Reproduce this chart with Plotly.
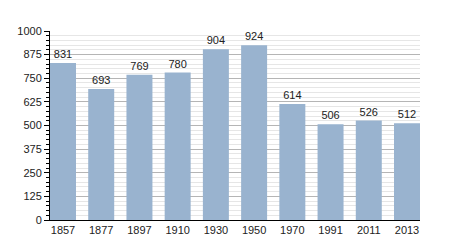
import plotly.graph_objects as go

years = ["1857", "1877", "1897", "1910", "1930", "1950", "1970", "1991", "2011", "2013"]
population = [831, 693, 769, 780, 904, 924, 614, 506, 526, 512]
y_ticks = [0, 125, 250, 375, 500, 625, 750, 875, 1000]

fig = go.Figure(go.Bar(
    x=years, y=population, text=[str(v) for v in population],
    textposition="outside", cliponaxis=False,
    marker=dict(color="#99b3cf", line=dict(width=0)),
    width=0.68,
    textfont=dict(family="Liberation Sans, Arial", size=11, color="#222"),
))
fig.update_layout(
    width=450, height=250,
    margin=dict(l=50, r=30, t=31, b=30),
    paper_bgcolor="white", plot_bgcolor="white",
    showlegend=False,
    font=dict(family="Liberation Sans, Arial", size=11, color="#222"),
    bargap=0.32,
)
fig.update_xaxes(
    type="category", range=[-0.34, 9.34],
    showline=True, linecolor="black", linewidth=1,
    ticks="", showgrid=False, tickfont=dict(size=11),
)
fig.update_yaxes(
    range=[0, 1000], tickvals=y_ticks,
    showline=True, linecolor="black", linewidth=1,
    ticks="outside", ticklen=5, tickcolor="black",
    showgrid=True, gridcolor="#b5b5b5", gridwidth=1,
    zeroline=False,
    minor=dict(dtick=25, tick0=0, showgrid=True, gridcolor="#e6e6e6",
               ticks="outside", ticklen=3, tickcolor="black"),
    tickfont=dict(size=11),
)
fig.write_html("out.html")
